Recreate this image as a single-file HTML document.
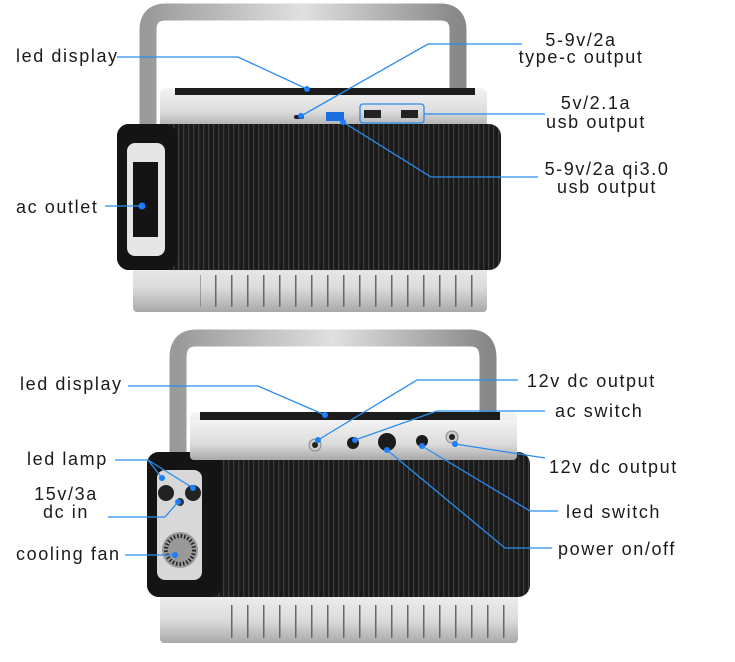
<!DOCTYPE html>
<html><head><meta charset="utf-8"><style>
body{margin:0;background:#fff;width:735px;height:662px;overflow:hidden}
svg{display:block}
text{font-family:"Liberation Sans",sans-serif;font-size:18px;fill:#1a1a1a;letter-spacing:1.6px}
.l{stroke:#2a8cf0;stroke-width:1.3;fill:none}
.d{fill:#1a7cff}
</style></head><body>
<svg width="735" height="662" viewBox="0 0 735 662">
<defs>
<linearGradient id="sil" x1="0" y1="0" x2="0" y2="1"><stop offset="0" stop-color="#f4f4f4"/><stop offset="0.6" stop-color="#dcdcdc"/><stop offset="1" stop-color="#a8a8a8"/></linearGradient>
<linearGradient id="han" x1="0" y1="0" x2="1" y2="0"><stop offset="0" stop-color="#9a9a9a"/><stop offset="0.5" stop-color="#e0e0e0"/><stop offset="1" stop-color="#888"/></linearGradient>
<pattern id="rib" width="5" height="10" patternUnits="userSpaceOnUse"><rect width="5" height="10" fill="#1a1a1a"/><rect x="3" width="1.3" height="10" fill="#3c3c3c"/></pattern>
<pattern id="slot" width="16" height="40" patternUnits="userSpaceOnUse"><rect x="7" y="0" width="1.5" height="40" fill="#666"/></pattern>
</defs>

<!-- TOP DEVICE -->
<path d="M148,125 L148,30 Q148,12 166,12 L440,12 Q458,12 458,30 L458,95" fill="none" stroke="url(#han)" stroke-width="17"/>
<rect x="133" y="250" width="354" height="62" rx="4" fill="url(#sil)"/>
<rect x="200" y="275" width="285" height="32" fill="url(#slot)"/>
<rect x="160" y="88" width="327" height="40" rx="6" fill="url(#sil)"/>
<rect x="175" y="88" width="300" height="7" fill="#1c1c1c"/>
<rect x="117" y="124" width="384" height="146" rx="12" fill="url(#rib)"/>
<rect x="117" y="124" width="60" height="146" rx="12" fill="#141414"/>
<rect x="127" y="143" width="38" height="113" rx="8" fill="#e6e6e6"/>
<rect x="133" y="162" width="25" height="75" fill="#141414"/>
<circle cx="142" cy="206" r="3.5" class="d"/>
<rect x="294" y="115" width="10" height="4" rx="2" fill="#222"/>
<rect x="326" y="112" width="18" height="9" fill="#1a6fe0"/>
<rect x="364" y="110" width="17" height="8" fill="#222"/>
<rect x="401" y="110" width="17" height="8" fill="#222"/>
<rect x="360" y="104" width="64" height="19" rx="3" fill="none" stroke="#2a8cf0" stroke-width="1.3"/>
<circle cx="307" cy="89" r="3" class="d"/>
<circle cx="301" cy="116" r="3" class="d"/>
<circle cx="343" cy="122" r="3" class="d"/>
<polyline class="l" points="117,57 238,57 307,89"/>
<polyline class="l" points="301,116 428,44 522,44"/>
<polyline class="l" points="424,114 545,114"/>
<polyline class="l" points="343,122 431,177 538,177"/>
<polyline class="l" points="105,206 142,206"/>

<!-- BOTTOM DEVICE -->
<path d="M178,460 L178,358 Q178,338 196,338 L470,338 Q488,338 488,358 L488,415" fill="none" stroke="url(#han)" stroke-width="17"/>
<rect x="160" y="585" width="358" height="58" rx="4" fill="url(#sil)"/>
<rect x="225" y="605" width="290" height="33" fill="url(#slot)"/>
<rect x="190" y="412" width="327" height="55" rx="6" fill="url(#sil)"/>
<rect x="200" y="412" width="300" height="8" fill="#1c1c1c"/>
<rect x="147" y="452" width="383" height="145" rx="12" fill="url(#rib)"/>
<rect x="147" y="452" width="75" height="145" rx="12" fill="#141414"/>
<rect x="190" y="420" width="327" height="40" rx="4" fill="url(#sil)"/>
<rect x="157" y="470" width="45" height="110" rx="8" fill="#d8d8d8"/>
<circle cx="166" cy="493" r="8" fill="#222"/>
<circle cx="193" cy="493" r="8" fill="#222"/>
<circle cx="180" cy="502" r="4" fill="#333"/>
<circle cx="180" cy="550" r="18" fill="#999"/>
<circle cx="180" cy="550" r="14" fill="none" stroke="#222" stroke-width="4" stroke-dasharray="1.5 2"/>
<circle cx="315" cy="445" r="6" fill="#ccc" stroke="#888"/><circle cx="315" cy="445" r="3" fill="#222"/>
<circle cx="353" cy="443" r="6" fill="#1b1b1b"/>
<circle cx="387" cy="442" r="9" fill="#1b1b1b"/>
<circle cx="422" cy="441" r="6" fill="#1b1b1b"/>
<circle cx="452" cy="437" r="6" fill="#ccc" stroke="#888"/><circle cx="452" cy="437" r="3" fill="#222"/>
<g class="d"><circle cx="325" cy="415" r="3"/><circle cx="318" cy="440" r="3"/><circle cx="355" cy="440" r="3"/><circle cx="387" cy="450" r="3"/><circle cx="422" cy="446" r="3"/><circle cx="455" cy="444" r="3"/><circle cx="162" cy="478" r="3"/><circle cx="193" cy="488" r="3"/><circle cx="178" cy="502" r="3"/><circle cx="175" cy="555" r="3"/></g>
<polyline class="l" points="128,386 258,386 325,415"/>
<polyline class="l" points="318,440 417,380 518,380"/>
<polyline class="l" points="355,440 437,411 545,411"/>
<polyline class="l" points="455,444 545,458"/>
<polyline class="l" points="422,446 530,511 558,511"/>
<polyline class="l" points="387,450 505,548 552,548"/>
<polyline class="l" points="115,460 148,460 162,478"/>
<polyline class="l" points="148,460 193,488"/>
<polyline class="l" points="108,517 165,517 178,502"/>
<polyline class="l" points="125,555 175,555"/>

<!-- LABELS -->
<text x="16" y="62">led display</text>
<text x="16" y="213">ac outlet</text>
<text x="581" y="46" text-anchor="middle">5-9v/2a</text>
<text x="581" y="63" text-anchor="middle">type-c output</text>
<text x="596" y="109" text-anchor="middle">5v/2.1a</text>
<text x="596" y="128" text-anchor="middle">usb output</text>
<text x="607" y="175" text-anchor="middle">5-9v/2a qi3.0</text>
<text x="607" y="193" text-anchor="middle">usb output</text>

<text x="20" y="390">led display</text>
<text x="27" y="465">led lamp</text>
<text x="66" y="500" text-anchor="middle">15v/3a</text>
<text x="66" y="518" text-anchor="middle">dc in</text>
<text x="16" y="560">cooling fan</text>
<text x="527" y="387">12v dc output</text>
<text x="555" y="417">ac switch</text>
<text x="549" y="473">12v dc output</text>
<text x="566" y="518">led switch</text>
<text x="558" y="555">power on/off</text>
</svg>
</body></html>
